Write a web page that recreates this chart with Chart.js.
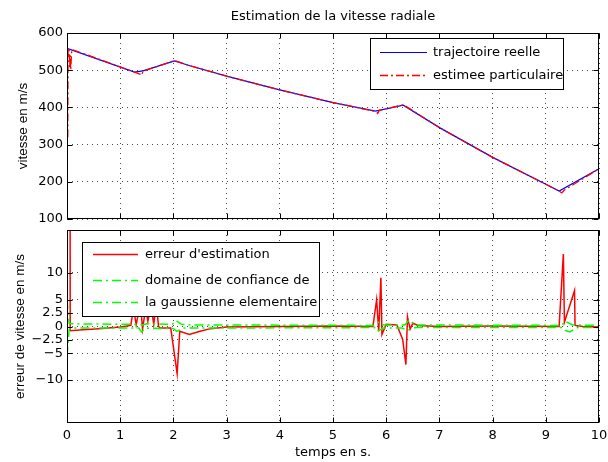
<!DOCTYPE html>
<html>
<head>
<meta charset="utf-8">
<script src="https://cdn.jsdelivr.net/npm/chart.js@4.4.1/dist/chart.umd.min.js"></script>
<style>
  body { margin: 0; background: #fff; width: 608px; height: 462px; position: relative; overflow: hidden; }
  canvas { position: absolute; left: 0; }
  #haut { top: 0; }
  #bas { top: 225px; }
</style>
</head>
<body>
<canvas id="haut" width="608" height="225"></canvas>
<canvas id="bas" width="608" height="237"></canvas>
<script>
// --- donnees ---
// vitesse radiale (m/s)
const tReel = [0, 1.27, 1.43, 2.02, 2.31, 3, 4, 5, 5.8, 6.32, 7.01, 8.01, 9.02, 9.25, 10];
const vReel = [559, 495, 498, 525, 512, 484, 447, 413, 390, 406, 345, 265, 192, 175, 235];

const tEst = [0.015, 0.02, 0.04, 0.05, 0.06, 0.07, 0.09, 1.27, 1.38, 1.40, 1.43, 2.02, 2.31, 3, 4, 5, 5.8, 5.84, 5.87, 6.32, 6.38, 7.01, 8.01, 9.02, 9.25, 9.3, 9.35, 10];
const vEst = [320, 555, 560, 505, 540, 500, 556, 495, 489, 486, 497, 526, 512, 484, 447, 413, 389, 384, 392, 407, 402, 345, 265, 192, 175, 170, 178, 235];

// erreur d'estimation (m/s)
const tErr = [0, 0.05, 0.06, 0.3, 0.6, 1.0, 1.2, 1.25, 1.3, 1.38, 1.42, 1.48, 1.52, 1.58, 1.63, 1.68, 1.72, 1.76, 1.95, 2.07, 2.12, 2.3, 2.5, 2.7, 3.0, 4, 5, 5.75, 5.82, 5.86, 5.9, 5.92, 6.0, 6.2, 6.31, 6.37, 6.4, 6.45, 6.5, 6.6, 7, 8, 9.25, 9.33, 9.35, 9.54, 9.55, 9.7, 10];
const vErr = [240, 240, -0.8, -0.6, -0.4, -0.1, 0.2, 3.5, 0.3, 4.5, -0.5, 3.5, 1, 4, 0.4, 4.5, 0, -0.3, -0.3, -8.8, -0.9, -1.5, -0.9, -0.4, -0.1, 0, 0.1, 0, 5, -0.9, 9.1, -1.5, 0.4, 0.3, -2.4, -7.1, 1.8, -0.5, 0.6, 0.2, 0, 0.1, 0, 13.5, 0.8, 6.7, 0.2, 0, -0.1];

// bornes du domaine de confiance
const tSup = [0, 0.04, 0.1, 1.35, 1.42, 1.5, 1.98, 2.05, 2.15, 2.4, 5.78, 5.85, 5.95, 6.35, 6.43, 6.55, 9.3, 9.36, 9.5, 10];
const vSup = [5, 0.6, 0.5, 0.4, 0.3, 0.5, 0.4, 1.1, 0.4, 0.3, 0.2, 0.8, 0.3, 0.3, 1.2, 0.3, 0.2, 1.0, 0.3, 0.2];
const tInf = [0, 0.04, 0.1, 1.35, 1.4, 1.48, 2.0, 2.07, 2.2, 5.78, 5.83, 5.95, 6.3, 6.4, 6.55, 9.3, 9.36, 9.45, 9.6, 10];
const vInf = [-5.5, -0.6, -0.3, -0.3, -1.0, -0.3, -0.4, -0.9, -0.3, -0.2, -0.9, -0.3, -0.3, -0.7, -0.2, -0.2, -0.7, -1.0, -0.2, -0.2];

const errTicks = [-10, -5, -2.5, 0, 2.5, 5, 10];

const pts = (xs, ys) => xs.map((x, i) => ({ x: x, y: ys[i] }));

const fontH = { family: 'DejaVu Sans', size: 13 };
const fontV = { family: 'Liberation Sans', size: 13.5 };
const gridDots = { display: false, dash: [1, 4] };
const gridCol = 'rgba(0,0,0,0.7)';

// pas de marge automatique pour les etiquettes extremes
const sansMarge = s => { s.paddingTop = 0; s.paddingBottom = 0; s.paddingLeft = 0; s.paddingRight = 0; };

// cadre type matlab avec graduations vers l'interieur
const cadre = {
  id: 'cadre',
  afterDatasetsDraw(chart) {
    const { ctx, chartArea: a, scales } = chart;
    const l = Math.round(a.left) + 0.5, r = Math.round(a.right) - 0.5;
    const t = Math.round(a.top) + 0.5, b = Math.round(a.bottom) - 0.5;
    ctx.save();
    ctx.strokeStyle = '#000';
    ctx.lineWidth = 1;
    ctx.setLineDash([]);
    ctx.strokeRect(l, t, r - l, b - t);
    ctx.beginPath();
    scales.x.ticks.forEach(tk => {
      const px = Math.round(scales.x.getPixelForValue(tk.value)) + 0.5;
      ctx.moveTo(px, b); ctx.lineTo(px, b - 5);
      ctx.moveTo(px, t); ctx.lineTo(px, t + 5);
    });
    scales.y.ticks.forEach(tk => {
      const py = Math.round(scales.y.getPixelForValue(tk.value)) + 0.5;
      ctx.moveTo(l, py); ctx.lineTo(l + 5, py);
      ctx.moveTo(r, py); ctx.lineTo(r - 5, py);
    });
    ctx.stroke();
    ctx.restore();
  }
};

// legende encadree
const legende = {
  id: 'legende',
  afterDraw(chart, args, opts) {
    const { ctx } = chart;
    const [x0, y0, x1, y1] = opts.box;
    ctx.save();
    ctx.fillStyle = '#fff';
    ctx.fillRect(x0, y0, x1 - x0, y1 - y0);
    ctx.strokeStyle = '#000';
    ctx.lineWidth = 1;
    ctx.strokeRect(x0 + 0.5, y0 + 0.5, x1 - x0, y1 - y0);
    ctx.font = '13px "DejaVu Sans"';
    ctx.textBaseline = 'middle';
    opts.items.forEach((idx, i) => {
      const ds = chart.data.datasets[idx];
      const y = Math.round(opts.rows[i]) + 0.5;
      ctx.strokeStyle = ds.borderColor;
      ctx.lineWidth = ds.borderWidth;
      ctx.setLineDash(ds.borderDash || []);
      ctx.beginPath();
      ctx.moveTo(opts.sample[0], y);
      ctx.lineTo(opts.sample[1], y);
      ctx.stroke();
      ctx.fillStyle = '#000';
      ctx.fillText(ds.label, opts.textX, y);
    });
    ctx.restore();
  }
};

new Chart(document.getElementById('haut'), {
  type: 'line',
  data: {
    datasets: [
      { label: 'estimee particulaire', data: pts(tEst, vEst), borderColor: '#ff0000', borderWidth: 1.3, borderDash: [8, 3, 2, 3], pointRadius: 0, tension: 0, order: 0 },
      { label: 'trajectoire reelle', data: pts(tReel, vReel), borderColor: '#0000ff', borderWidth: 1.2, pointRadius: 0, tension: 0, order: 1 }
    ]
  },
  options: {
    responsive: false,
    animation: false,
    layout: { padding: { left: 0, right: 9, top: 0, bottom: 0 } },
    plugins: {
      legend: { display: false },
      tooltip: { enabled: false },
      title: { display: true, fullSize: false, text: 'Estimation de la vitesse radiale', color: '#000', font: { family: 'DejaVu Sans', size: 13, weight: 'normal' }, padding: { top: 9, bottom: 8.4 } },
      legende: { box: [370, 38, 563, 89], sample: [380, 427], textX: 433, rows: [52, 75], items: [1, 0] }
    },
    scales: {
      x: {
        type: 'linear', min: 0, max: 10,
        ticks: { display: false, stepSize: 1 },
        grid: { color: gridCol, drawTicks: false },
        border: gridDots,
        afterFit: s => { sansMarge(s); s.height = 6; }
      },
      y: {
        min: 100, max: 600,
        ticks: { stepSize: 100, color: '#000', font: fontH, padding: 4 },
        grid: { color: gridCol, drawTicks: false },
        border: gridDots,
        title: { display: true, text: 'vitesse en m/s', color: '#000', font: fontV, padding: { top: 15, bottom: 0 } },
        afterFit: s => { sansMarge(s); s.width = 67; }
      }
    }
  },
  plugins: [cadre, legende]
});

new Chart(document.getElementById('bas'), {
  type: 'line',
  data: {
    datasets: [
      { label: "erreur d'estimation", data: pts(tErr, vErr), borderColor: '#ff0000', borderWidth: 1.5, pointRadius: 0, tension: 0, order: 1 },
      { label: 'domaine de confiance de', data: pts(tSup, vSup), borderColor: '#00ff00', borderWidth: 1.5, borderDash: [9, 4, 2, 4], pointRadius: 0, tension: 0, order: 0 },
      { label: 'la gaussienne elementaire', data: pts(tInf, vInf), borderColor: '#00ff00', borderWidth: 1.5, borderDash: [9, 4, 2, 4], pointRadius: 0, tension: 0, order: 0 }
    ]
  },
  options: {
    responsive: false,
    animation: false,
    layout: { padding: { left: 0, right: 9, top: 5, bottom: 0 } },
    plugins: {
      legend: { display: false },
      tooltip: { enabled: false },
      legende: { box: [82, 17, 319, 91], sample: [93, 138], textX: 145, rows: [29, 55, 77], items: [0, 1, 2] }
    },
    scales: {
      x: {
        type: 'linear', min: 0, max: 10,
        ticks: { stepSize: 1, color: '#000', font: fontH, padding: 5, maxRotation: 0 },
        grid: { color: gridCol, drawTicks: false },
        border: gridDots,
        title: { display: true, text: 'temps en s.', color: '#000', font: fontH, padding: { top: 0, bottom: 2 } },
        afterFit: s => { sansMarge(s); s.height = 39; }
      },
      y: {
        min: -18, max: 18,
        afterBuildTicks: s => { s.ticks = errTicks.map(v => ({ value: v })); },
        ticks: { color: '#000', font: fontH, padding: 4, callback: v => v < 0 ? '\u2212' + Math.abs(v) : String(v) },
        grid: { color: gridCol, drawTicks: false },
        border: gridDots,
        title: { display: true, text: 'erreur de vitesse en m/s', color: '#000', font: fontV, padding: { top: 12, bottom: 0 } },
        afterFit: s => { sansMarge(s); s.width = 67; }
      }
    }
  },
  plugins: [cadre, legende]
});
</script>
</body>
</html>
